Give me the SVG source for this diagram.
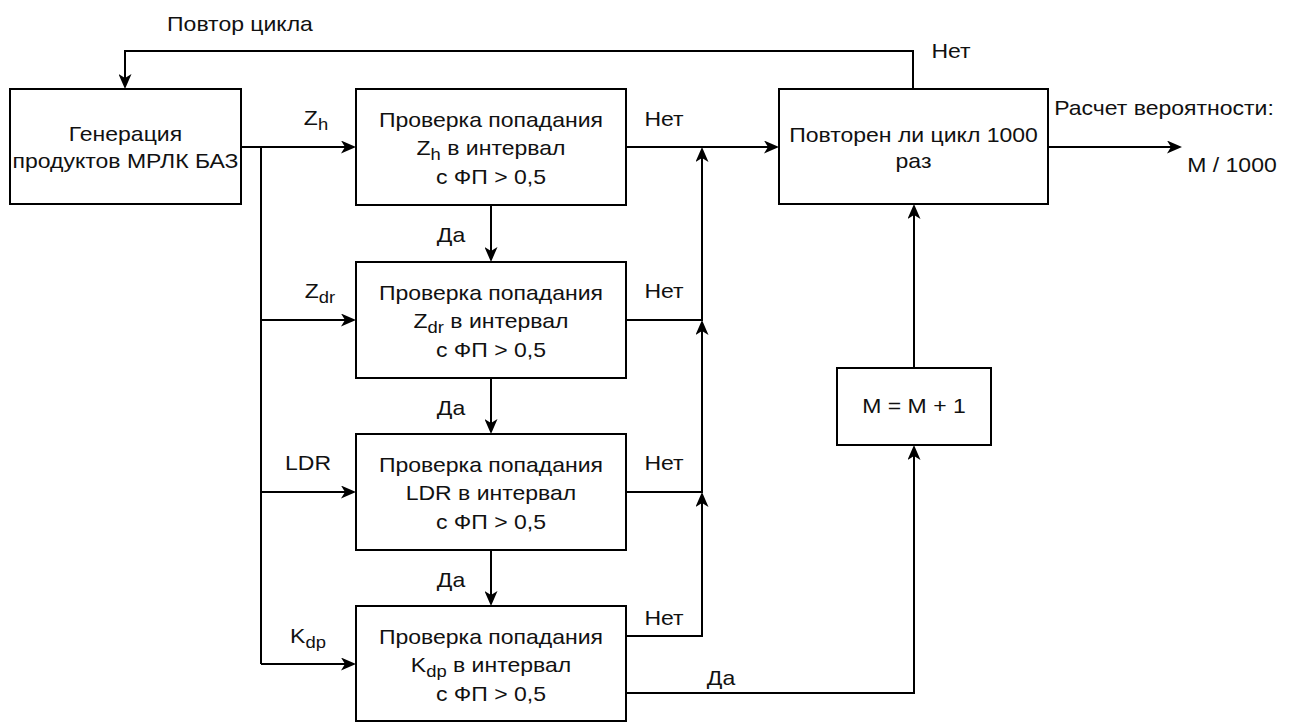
<svg xmlns="http://www.w3.org/2000/svg" width="1292" height="722" viewBox="0 0 1292 722">
  <defs>
    <marker id="arrow" viewBox="0 0 15 13" refX="12" refY="6.5" markerWidth="15" markerHeight="13" markerUnits="userSpaceOnUse" orient="auto">
      <path d="M0,0 L15,6.5 L0,13 L4,6.5 Z" fill="#000"/>
    </marker>
    <style>
      .box { fill: #fff; stroke: #000; stroke-width: 2; }
      .wire { fill: none; stroke: #000; stroke-width: 2; }
      .arr { marker-end: url(#arrow); }
      text { font-family: "Liberation Sans", Arial, sans-serif; font-size: 20px; fill: #111; text-anchor: middle;
             transform-box: fill-box; transform-origin: center; transform: scaleX(1.15); }
      .sub { font-size: 16px; }
    </style>
  </defs>

  <rect width="1292" height="722" fill="#fff"/>

  <!-- connectors -->
  <g id="connectors">
    <!-- repeat loop back to generation -->
    <path class="wire arr" d="M913,89 V51 H125 V86"/>
    <!-- generation to the four checks -->
    <path class="wire arr" d="M241,147 H353"/>
    <path class="wire" d="M261,147 V664"/>
    <path class="wire arr" d="M261,320 H353"/>
    <path class="wire arr" d="M261,492 H353"/>
    <path class="wire arr" d="M261,664 H353"/>
    <!-- "yes" chain downwards -->
    <path class="wire arr" d="M491,205 V259"/>
    <path class="wire arr" d="M491,378 V431"/>
    <path class="wire arr" d="M491,550 V603"/>
    <!-- "no" branches collected on the right -->
    <path class="wire arr" d="M626,636 H702 V495"/>
    <path class="wire arr" d="M626,492 H702 V323"/>
    <path class="wire arr" d="M626,320 H702 V150"/>
    <path class="wire arr" d="M626,147 H776"/>
    <!-- last "yes" to counter -->
    <path class="wire arr" d="M626,693 H914 V448"/>
    <path class="wire arr" d="M914,368 V207"/>
    <!-- result output -->
    <path class="wire arr" d="M1048,147 H1179"/>
  </g>

  <!-- connector labels -->
  <g id="labels">
    <text x="240" y="31">Повтор цикла</text>
    <text x="951" y="58">Нет</text>
    <text x="316" y="125">Z<tspan class="sub" dy="5">h</tspan></text>
    <text x="320" y="298">Z<tspan class="sub" dy="5">dr</tspan></text>
    <text x="308" y="470">LDR</text>
    <text x="308" y="643">K<tspan class="sub" dy="5">dp</tspan></text>
    <text x="664" y="126">Нет</text>
    <text x="664" y="298">Нет</text>
    <text x="664" y="470">Нет</text>
    <text x="664" y="625">Нет</text>
    <text x="451" y="242">Да</text>
    <text x="451" y="415">Да</text>
    <text x="451" y="587">Да</text>
    <text x="721" y="685">Да</text>
    <text x="1164" y="115">Расчет вероятности:</text>
    <text x="1232" y="172">M / 1000</text>
  </g>

  <g id="generation">
    <rect class="box" x="10" y="89" width="231" height="115"/>
    <text x="125.5" y="141">Генерация</text>
    <text x="125.5" y="168">продуктов МРЛК БАЗ</text>
  </g>

  <g id="check-zh">
    <rect class="box" x="356" y="89" width="270" height="116"/>
    <text x="491" y="127">Проверка попадания</text>
    <text x="491" y="155">Z<tspan class="sub" dy="5">h</tspan><tspan dy="-5"> в интервал</tspan></text>
    <text x="491" y="184">с ФП &gt; 0,5</text>
  </g>

  <g id="check-zdr">
    <rect class="box" x="356" y="262" width="270" height="116"/>
    <text x="491" y="300">Проверка попадания</text>
    <text x="491" y="328">Z<tspan class="sub" dy="5">dr</tspan><tspan dy="-5"> в интервал</tspan></text>
    <text x="491" y="357">с ФП &gt; 0,5</text>
  </g>

  <g id="check-ldr">
    <rect class="box" x="356" y="434" width="270" height="116"/>
    <text x="491" y="472">Проверка попадания</text>
    <text x="491" y="500">LDR в интервал</text>
    <text x="491" y="529">с ФП &gt; 0,5</text>
  </g>

  <g id="check-kdp">
    <rect class="box" x="356" y="606" width="270" height="115"/>
    <text x="491" y="644">Проверка попадания</text>
    <text x="491" y="672">K<tspan class="sub" dy="5">dp</tspan><tspan dy="-5"> в интервал</tspan></text>
    <text x="491" y="701">с ФП &gt; 0,5</text>
  </g>

  <g id="repeat-check">
    <rect class="box" x="779" y="89" width="269" height="115"/>
    <text x="913.5" y="142">Повторен ли цикл 1000</text>
    <text x="913.5" y="168">раз</text>
  </g>

  <g id="counter">
    <rect class="box" x="837" y="368" width="154" height="77"/>
    <text x="914" y="413">M = M + 1</text>
  </g>
</svg>
